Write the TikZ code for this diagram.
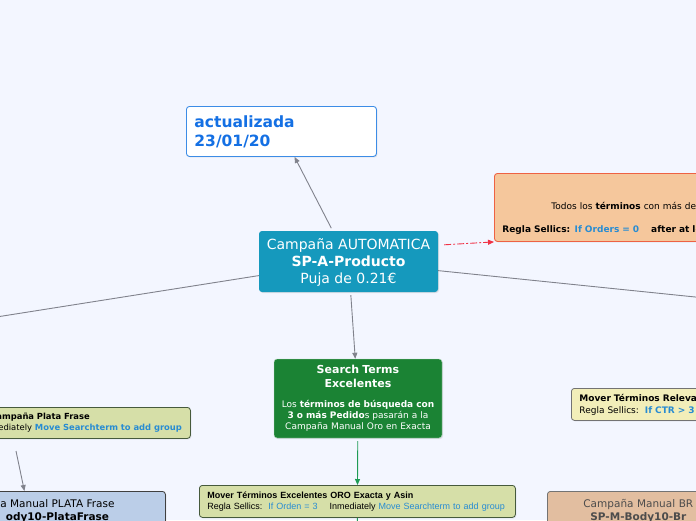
\documentclass[tikz,border=0pt]{standalone}
\usepackage{fontspec}
\setmainfont{DejaVu Sans}
\newfontfamily\arialfont{Liberation Sans}
\usetikzlibrary{
  arrows.meta,
  shadows
}
\definecolor{fondo}{RGB}{243,246,255}
\definecolor{azulfecha}{RGB}{20,112,228}
\definecolor{bordefecha}{RGB}{60,140,230}
\definecolor{turquesa}{RGB}{21,153,189}
\definecolor{naranja}{RGB}{245,199,156}
\definecolor{bordenaranja}{RGB}{238,98,68}
\definecolor{rojo}{RGB}{240,50,70}
\definecolor{verdeoscuro}{RGB}{27,131,52}
\definecolor{verdeflecha}{RGB}{30,155,85}
\definecolor{oliva}{RGB}{214,223,168}
\definecolor{bordeoliva}{RGB}{70,90,60}
\definecolor{amarillo}{RGB}{242,238,185}
\definecolor{plata}{RGB}{187,206,232}
\definecolor{bronce}{RGB}{226,190,160}
\definecolor{sellics}{RGB}{40,140,210}
\definecolor{gris}{RGB}{128,130,140}

\begin{document}
\begin{tikzpicture}[
      x=1pt, y=-1pt,
      >={Triangle[length=6pt,width=5pt]},
      caja/.style={rounded corners=3pt, drop shadow={shadow xshift=1pt, shadow yshift=-1pt, opacity=0.2}},
      fecha/.style={caja, draw=bordefecha, fill=white, line width=0.9pt, text=azulfecha, align=left, text width=174pt, inner xsep=8pt, minimum height=50pt, font=\fontsize{15.5}{19}\selectfont\bfseries},
      campana/.style={caja, fill=turquesa, text=white, align=center, minimum width=179pt, minimum height=61pt, font=\fontsize{14}{17}\selectfont},
      excelente/.style={caja, draw=white!70!verdeoscuro, fill=verdeoscuro, text=white, align=center, text width=162pt, inner xsep=3pt, minimum height=79pt, font=\fontsize{9}{11}\selectfont},
      regla/.style={caja, draw=bordeoliva, fill=oliva, line width=0.8pt, align=left, inner xsep=8pt, font=\fontsize{8.4}{11}\selectfont},
      nota/.style={caja, draw=bordenaranja, fill=naranja, line width=0.9pt, align=left, inner xsep=8pt, font=\fontsize{9}{11}\selectfont},
      manual/.style={caja, draw=black!75, line width=0.8pt, align=center, font=\fontsize{10.5}{13}\selectfont},
      conector/.style={->, gris, line width=0.9pt},
      conector_verde/.style={->, verdeflecha, line width=0.9pt},
      conector_rojo/.style={->, rojo, line width=0.9pt, dash pattern={on 7pt off 2pt on 2pt off 2pt}}
  ]
      \useasboundingbox (0,0) rectangle (696,520);
      \clip (0,0) rectangle (696,520);
      \fill[fondo] (0,0) rectangle (696,520);

      % Nodos
      \node[fecha, anchor=north west] (fecha) at (186,106) {actualizada\\23/01/20};
      \node[campana, text depth=-2pt] (auto) at (348.5,261.5) {Campaña AUTOMATICA\\\textbf{SP-A-Producto}\\Puja de 0.21€};
      \node[nota, anchor=north west, text width=250pt, minimum height=68pt] (cero) at (494,173) {
          \mbox{}\\[18pt]
          \hspace*{49pt}Todos los \textbf{términos} con más de\\[12pt]
          \textbf{Regla Sellics: \textcolor{sellics}{If Orders = 0}\quad\ after at le}
      };
      \node[excelente] (excel) at (358,398.5) {
          {\fontsize{11}{14}\selectfont\bfseries Search Terms}\\[3pt]
          {\fontsize{11}{14}\selectfont\bfseries Excelentes}\\[9pt]
          Los \textbf{términos de búsqueda con}\\
          \textbf{3 o más Pedido}s pasarán a la\\
          Campaña Manual Oro en Exacta
      };
      \node[regla, anchor=north west, text width=300pt, minimum height=32pt, font=\arialfont\fontsize{9}{11.5}\selectfont] (movOro) at (199,485) {
          \textbf{Mover Términos Excelentes ORO Exacta y Asin}\\
          Regla Sellics:\ \ \textcolor{sellics}{If Orden = 3}\ \ \ \ Inmediately \textcolor{sellics}{Move Searchterm to add group}
      };
      \node[regla, anchor=north west, text width=186pt, minimum height=31pt] (regPlata) at (-12,407) {
          \textbf{ampaña Plata Frase}\\
          \hspace*{2pt}ediately \textcolor{sellics}{\textbf{Move Searchterm to add group}}
      };
      \node[manual, fill=plata, anchor=north west, minimum width=216pt, minimum height=40pt] (plata) at (-51,491) {
          a Manual PLATA Frase\\\textbf{ody10-PlataFrase}
      };
      \node[regla, draw=black!55, fill=amarillo, anchor=north west, text width=200pt, minimum height=32pt, font=\fontsize{9}{12}\selectfont] (relev) at (571,388) {
          \textbf{Mover Términos Releva}\\
          Regla Sellics:\ \ \textcolor{sellics}{\textbf{If CTR > 3}}
      };
      \node[manual, draw=black!55, fill=bronce, text=black!70, anchor=north west, align=left, text width=200pt, inner xsep=36pt, minimum height=40pt] (bronce) at (547,491) {
          Campaña Manual BR\\\hspace*{7pt}\textbf{SP-M-Body10-Br}
      };

      % Extremos fuera del cuadro
      \coordinate (izq) at (-200,348);
      \coordinate (der) at (900,318);
      \coordinate (desdePlata) at (16,451);
      \coordinate (abajo) at (357,560);

      % Conectores
      \draw[conector, shorten <=3pt] (auto) -- (fecha);
      \draw[conector, shorten <=3pt] (auto) -- (excel);
      \draw[gris, line width=0.9pt] (auto) -- (izq);
      \draw[gris, line width=0.9pt] (auto) -- (der);
      \draw[conector_rojo] ([xshift=6pt,yshift=-14pt]auto.north east) -- (cero.south west);
      \draw[conector_verde, shorten <=3pt] (excel) -- (movOro);
      \draw[verdeflecha, line width=0.9pt] (movOro.south) -- (abajo);
      \draw[conector] (desdePlata) -- ([xshift=-33pt]plata.north);

  \end{tikzpicture}
\end{document}
